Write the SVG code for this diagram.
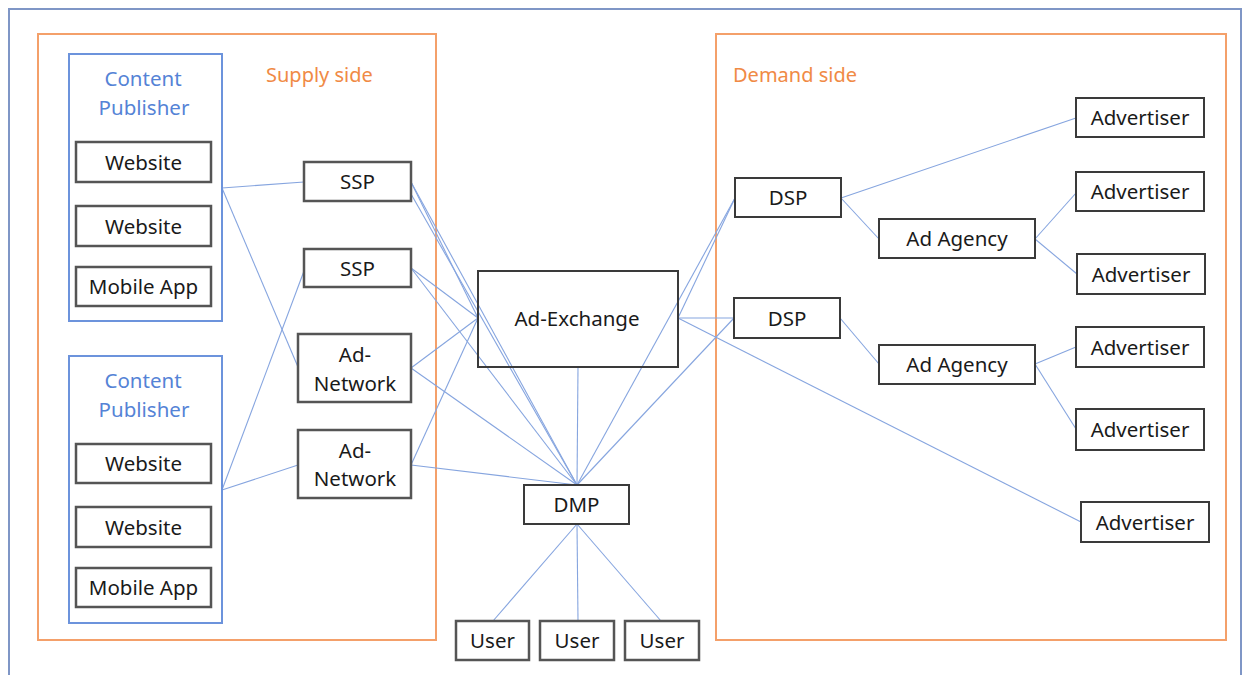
<svg xmlns="http://www.w3.org/2000/svg" width="1243" height="675" viewBox="0 0 1243 675">
  <style>
    .frame { fill: none; stroke: #7f96c6; stroke-width: 2; }
    .side { fill: none; stroke: #f4a06a; stroke-width: 2; }
    .side-label { font-family: "Noto Sans", "Open Sans", sans-serif; font-size: 20px; fill: #f08a45; }
    .pub { fill: none; stroke: #6c93dc; stroke-width: 2; }
    .pub-label { font-family: "Noto Sans", "Open Sans", sans-serif; font-size: 20.5px; fill: #5583d6; text-anchor: middle; }
    .box { fill: #ffffff; stroke: #3a3a3a; stroke-width: 2; }
    .box.soft { stroke: #555555; stroke-width: 2.5; }
    .box.open { fill: none; }
    .label { font-family: "Noto Sans", "Open Sans", sans-serif; font-size: 20.5px; fill: #1a1a1a; text-anchor: middle; }
    .links line { stroke: #86a5df; stroke-width: 1.1; fill: none; }
  </style>

  <rect width="1243" height="675" fill="#ffffff"/>

  <!-- outer frame (runs past the bottom edge) -->
  <rect class="frame" x="9" y="9" width="1232" height="690"/>

  <!-- market sides -->
  <g id="supply-side">
    <rect class="side" x="38" y="34" width="398" height="606"/>
    <text class="side-label" x="266" y="82">Supply side</text>
  </g>
  <g id="demand-side">
    <rect class="side" x="716" y="34" width="510" height="606"/>
    <text class="side-label" x="733" y="82">Demand side</text>
  </g>

  <!-- connectors -->
  <g id="connectors" class="links">
    <line x1="222" y1="188" x2="304" y2="182"/>
    <line x1="222" y1="188" x2="298" y2="367"/>
    <line x1="222" y1="490" x2="304" y2="271"/>
    <line x1="222" y1="490" x2="298" y2="465"/>
    <line x1="411" y1="182" x2="478" y2="318"/>
    <line x1="411" y1="182" x2="577" y2="485"/>
    <line x1="411" y1="194" x2="577" y2="485"/>
    <line x1="411" y1="268" x2="478" y2="318"/>
    <line x1="411" y1="268" x2="577" y2="485"/>
    <line x1="411" y1="368" x2="478" y2="318"/>
    <line x1="411" y1="368" x2="577" y2="485"/>
    <line x1="411" y1="465" x2="478" y2="318"/>
    <line x1="411" y1="465" x2="577" y2="485"/>
    <line x1="578" y1="367" x2="577" y2="485"/>
    <line x1="735" y1="198" x2="678" y2="318"/>
    <line x1="735" y1="198" x2="577" y2="485"/>
    <line x1="734" y1="318" x2="678" y2="318"/>
    <line x1="734" y1="318" x2="577" y2="485"/>
    <line x1="678" y1="318" x2="1081" y2="522"/>
    <line x1="577" y1="524" x2="493" y2="621"/>
    <line x1="577" y1="524" x2="578" y2="621"/>
    <line x1="577" y1="524" x2="661" y2="621"/>
    <line x1="841" y1="198" x2="1076" y2="118"/>
    <line x1="841" y1="198" x2="879" y2="239"/>
    <line x1="1035" y1="239" x2="1076" y2="193"/>
    <line x1="1035" y1="239" x2="1077" y2="274"/>
    <line x1="840" y1="318" x2="879" y2="364"/>
    <line x1="1035" y1="364" x2="1076" y2="347"/>
    <line x1="1035" y1="364" x2="1076" y2="429"/>
  </g>

  <!-- publishers -->
  <g id="publisher-1">
    <rect class="pub" x="69" y="54" width="153" height="267"/>
    <text class="pub-label" x="143" y="86">Content</text>
    <text class="pub-label" x="144" y="115">Publisher</text>
  </g>
  <g id="website-1a"><rect class="box soft" x="76" y="142" width="135" height="40"/><text class="label" x="143.5" y="169.5">Website</text></g>
  <g id="website-1b"><rect class="box soft" x="76" y="206" width="135" height="40"/><text class="label" x="143.5" y="233.5">Website</text></g>
  <g id="mobile-app-1"><rect class="box soft" x="76" y="267" width="135" height="39"/><text class="label" x="143.5" y="294">Mobile App</text></g>

  <g id="publisher-2">
    <rect class="pub" x="69" y="356" width="153" height="267"/>
    <text class="pub-label" x="143" y="388">Content</text>
    <text class="pub-label" x="144" y="417">Publisher</text>
  </g>
  <g id="website-2a"><rect class="box soft" x="76" y="444" width="135" height="39"/><text class="label" x="143.5" y="471">Website</text></g>
  <g id="website-2b"><rect class="box soft" x="76" y="507" width="135" height="40"/><text class="label" x="143.5" y="534.5">Website</text></g>
  <g id="mobile-app-2"><rect class="box soft" x="76" y="568" width="135" height="39"/><text class="label" x="143.5" y="595">Mobile App</text></g>

  <!-- supply-side platforms and networks -->
  <g id="ssp-1"><rect class="box soft" x="304" y="162" width="107" height="39"/><text class="label" x="357.5" y="189">SSP</text></g>
  <g id="ssp-2"><rect class="box soft" x="304" y="249" width="107" height="38"/><text class="label" x="357.5" y="275.5">SSP</text></g>
  <g id="ad-network-1">
    <rect class="box soft" x="298" y="334" width="113" height="68"/>
    <text class="label" x="355" y="361.5">Ad-</text>
    <text class="label" x="355" y="390.5">Network</text>
  </g>
  <g id="ad-network-2">
    <rect class="box soft" x="298" y="430" width="113" height="68"/>
    <text class="label" x="355" y="457.5">Ad-</text>
    <text class="label" x="355" y="486">Network</text>
  </g>

  <!-- exchange, data platform, users -->
  <g id="ad-exchange"><rect class="box open" x="478" y="271" width="200" height="96"/><text class="label" x="577" y="326">Ad-Exchange</text></g>
  <g id="dmp"><rect class="box" x="524" y="485" width="105" height="39"/><text class="label" x="576.5" y="512">DMP</text></g>
  <g id="user-1"><rect class="box soft" x="456" y="621" width="73" height="39"/><text class="label" x="492.5" y="648">User</text></g>
  <g id="user-2"><rect class="box soft" x="540" y="621" width="74" height="39"/><text class="label" x="577" y="648">User</text></g>
  <g id="user-3"><rect class="box soft" x="625" y="621" width="74" height="39"/><text class="label" x="662" y="648">User</text></g>

  <!-- demand side -->
  <g id="dsp-1"><rect class="box" x="735" y="178" width="106" height="39"/><text class="label" x="788" y="205">DSP</text></g>
  <g id="dsp-2"><rect class="box" x="734" y="298" width="106" height="40"/><text class="label" x="787" y="325.5">DSP</text></g>
  <g id="ad-agency-1"><rect class="box" x="879" y="219" width="156" height="39"/><text class="label" x="957" y="246">Ad Agency</text></g>
  <g id="ad-agency-2"><rect class="box" x="879" y="345" width="156" height="39"/><text class="label" x="957" y="372">Ad Agency</text></g>
  <g id="advertiser-1"><rect class="box" x="1076" y="98" width="128" height="39"/><text class="label" x="1140" y="125">Advertiser</text></g>
  <g id="advertiser-2"><rect class="box" x="1076" y="172" width="128" height="39"/><text class="label" x="1140" y="199">Advertiser</text></g>
  <g id="advertiser-3"><rect class="box" x="1077" y="254" width="128" height="40"/><text class="label" x="1141" y="281.5">Advertiser</text></g>
  <g id="advertiser-4"><rect class="box" x="1076" y="327" width="128" height="40"/><text class="label" x="1140" y="354.5">Advertiser</text></g>
  <g id="advertiser-5"><rect class="box" x="1076" y="409" width="128" height="41"/><text class="label" x="1140" y="437">Advertiser</text></g>
  <g id="advertiser-6"><rect class="box" x="1081" y="502" width="128" height="40"/><text class="label" x="1145" y="529.5">Advertiser</text></g>
</svg>
